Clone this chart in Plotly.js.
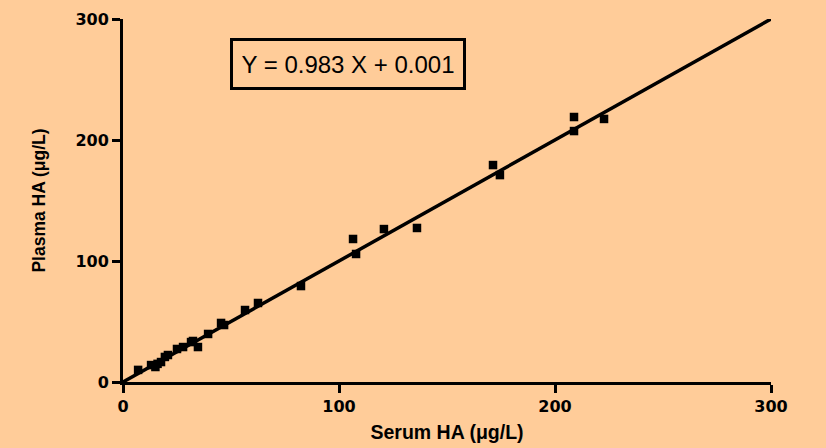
<!DOCTYPE html>
<html>
<head>
<meta charset="utf-8">
<script src="https://cdn.plot.ly/plotly-3.0.1.min.js"></script>
<style>html,body{margin:0;padding:0;background:#FFCC99;}#chart{width:826px;height:448px;}</style>
</head>
<body>
<div id="chart"></div>
<script>
const serumHA = [7, 13, 15, 16, 17.6, 19.4, 20.8, 25, 27.8, 31.5, 32.4, 34.7, 39.4, 45.4, 46.8, 56.5, 62.5, 82.4, 106.5, 107.9, 120.8, 136.1, 171.3, 174.5, 208.8, 208.8, 222.7];
const plasmaHA = [10, 14, 12.4, 15, 16.5, 20.7, 22.3, 27.3, 28.9, 33, 33.9, 28.9, 39.7, 48.8, 47.1, 59.5, 65.3, 79.3, 118.2, 105.8, 126.4, 127.3, 179.3, 171, 219, 207.4, 217.4];
const fitX = [0, 300];
const fitY = [0, 300];
const tickVals = [0, 100, 200, 300];
const equationText = "Y = 0.983 X + 0.001";

const traces = [
  {x: fitX, y: fitY, mode: 'lines', line: {color: '#000', width: 3.5}, hoverinfo: 'skip', cliponaxis: false},
  {x: serumHA, y: plasmaHA, mode: 'markers', marker: {symbol: 'square', size: 8.5, color: '#000'}, cliponaxis: false}
];

const axisCommon = {
  range: [0, 300], tickvals: tickVals, ticks: 'outside', ticklen: 8, tickwidth: 3, tickcolor: '#000',
  showline: true, linewidth: 3, linecolor: '#000', showgrid: false, zeroline: false,
  tickfont: {family: 'DejaVu Sans, sans-serif', size: 16, color: '#000', weight: 'bold'}
};

const layout = {
  width: 826, height: 448,
  paper_bgcolor: '#FFCC99', plot_bgcolor: '#FFCC99',
  margin: {l: 123, r: 55, t: 19, b: 66},
  showlegend: false,
  xaxis: Object.assign({}, axisCommon, {
    title: {text: 'Serum HA (μg/L)', font: {family: 'Arial, Liberation Sans, sans-serif', size: 19.5, color: '#000', weight: 'bold'}, standoff: 11}
  }),
  yaxis: Object.assign({}, axisCommon, {
    title: {text: 'Plasma HA (μg/L)', font: {family: 'Arial, Liberation Sans, sans-serif', size: 17.5, color: '#000', weight: 'bold'}, standoff: 26}
  }),
  annotations: [{
    xref: 'paper', yref: 'paper', x: (348 - 123) / 648, y: (382 - 64) / 363,
    xanchor: 'center', yanchor: 'middle', showarrow: false,
    text: equationText, font: {family: 'Arial, Liberation Sans, sans-serif', size: 24, color: '#000'},
    bordercolor: '#000', borderwidth: 3, borderpad: 9, width: 212, height: 28, bgcolor: 'rgba(0,0,0,0)'
  }]
};

Plotly.newPlot('chart', traces, layout, {displayModeBar: false, staticPlot: true});
</script>
</body>
</html>
